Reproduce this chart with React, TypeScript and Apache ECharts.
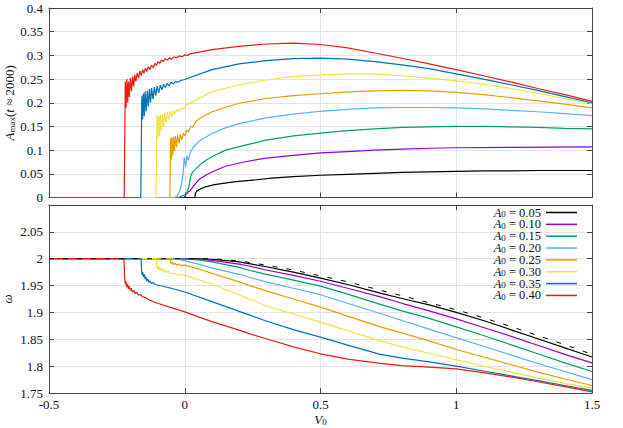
import React, { useEffect, useRef } from "react";
import * as echarts from "echarts";

// ---------- legend / colours ----------
const A0_LABELS = ["0.05", "0.10", "0.15", "0.20", "0.25", "0.30", "0.35", "0.40"];
const COLORS = ["#000000", "#9400d3", "#009e73", "#56b4e9", "#e69f00", "#f0e442", "#0072b2", "#e51e10"];

// ---------- top panel: A_max vs V0 ----------
const ampV_005 = [-0.5, 0.038, 0.039, 0.045, 0.06, 0.08, 0.11, 0.18, 0.24, 0.32, 0.4, 0.5, 0.6, 0.7, 0.8, 0.9, 1.0, 1.1, 1.2, 1.3, 1.4, 1.5];
const amp_005 = [0, 0, 0.009, 0.014, 0.019, 0.023, 0.027, 0.033, 0.036, 0.041, 0.044, 0.047, 0.049, 0.051, 0.053, 0.054, 0.055, 0.056, 0.056, 0.057, 0.057, 0.057];

const ampV_010 = [-0.5, -0.002, 0.002, 0.006, 0.02, 0.031, 0.045, 0.055, 0.08, 0.104, 0.15, 0.227, 0.3, 0.4, 0.5, 0.6, 0.7, 0.8, 0.9, 1.0, 1.2, 1.5];
const amp_010 = [0, 0, 0.004, 0.008, 0.015, 0.023, 0.033, 0.039, 0.048, 0.055, 0.066, 0.076, 0.083, 0.089, 0.094, 0.097, 0.1, 0.102, 0.104, 0.105, 0.106, 0.107];

const ampV_015 = [-0.5, -0.035, -0.02, -0.005, 0.006, 0.015, 0.022, 0.028, 0.04, 0.06, 0.08, 0.104, 0.15, 0.227, 0.3, 0.4, 0.5, 0.6, 0.7, 0.8, 0.9, 1.0, 1.1, 1.2, 1.3, 1.4, 1.5];
const amp_015 = [0, 0, 0.001, 0.004, 0.008, 0.022, 0.045, 0.053, 0.06, 0.071, 0.079, 0.087, 0.1, 0.111, 0.121, 0.13, 0.136, 0.141, 0.145, 0.148, 0.149, 0.15, 0.15, 0.149, 0.148, 0.146, 0.145];

const ampV_020 = [-0.5, -0.037, -0.028, -0.02, -0.012, -0.006, -0.002, 0.003, 0.008, 0.013, 0.02, 0.031, 0.055, 0.1, 0.15, 0.2, 0.3, 0.4, 0.5, 0.6, 0.7, 0.8, 0.9, 1.0, 1.1, 1.2, 1.3, 1.4, 1.5];
const amp_020 = [0, 0, 0.004, 0.012, 0.028, 0.05, 0.085, 0.065, 0.088, 0.078, 0.095, 0.106, 0.12, 0.135, 0.147, 0.156, 0.168, 0.176, 0.182, 0.186, 0.189, 0.19, 0.19, 0.189, 0.187, 0.184, 0.181, 0.177, 0.173];

const ampV_025 = [-0.5, -0.055, -0.052, -0.05, -0.047, -0.044, -0.041, -0.038, -0.034, -0.03, -0.026, -0.021, -0.016, -0.011, -0.005, 0.001, 0.007, 0.014, 0.022, 0.03, 0.04, 0.05, 0.1, 0.2, 0.3, 0.4, 0.5, 0.6, 0.7, 0.8, 0.9, 1.0, 1.1, 1.2, 1.3, 1.4, 1.5];
const amp_025 = [0, 0, 0.125, 0.08, 0.127, 0.088, 0.128, 0.098, 0.13, 0.106, 0.131, 0.114, 0.133, 0.122, 0.136, 0.13, 0.142, 0.139, 0.15, 0.149, 0.16, 0.165, 0.181, 0.199, 0.209, 0.215, 0.219, 0.223, 0.225, 0.226, 0.225, 0.222, 0.217, 0.211, 0.204, 0.197, 0.189];

const ampV_030 = [-0.5, -0.106, -0.102, -0.099, -0.096, -0.093, -0.09, -0.086, -0.082, -0.078, -0.074, -0.069, -0.064, -0.059, -0.054, -0.048, -0.042, -0.036, -0.03, -0.022, -0.014, -0.006, 0.005, 0.1, 0.2, 0.3, 0.4, 0.5, 0.6, 0.7, 0.8, 0.9, 1.0, 1.1, 1.2, 1.3, 1.4, 1.5];
const amp_030 = [0, 0, 0.175, 0.125, 0.172, 0.13, 0.174, 0.14, 0.176, 0.15, 0.178, 0.158, 0.18, 0.165, 0.182, 0.171, 0.184, 0.176, 0.186, 0.181, 0.189, 0.186, 0.195, 0.223, 0.238, 0.248, 0.255, 0.259, 0.261, 0.261, 0.257, 0.252, 0.246, 0.239, 0.23, 0.22, 0.209, 0.198];

const ampV_035 = [-0.5, -0.162, -0.158, -0.155, -0.152, -0.149, -0.146, -0.142, -0.138, -0.134, -0.13, -0.126, -0.122, -0.117, -0.112, -0.107, -0.102, -0.096, -0.09, -0.084, -0.078, -0.072, -0.065, -0.058, -0.05, -0.042, -0.034, -0.025, -0.015, 0.0, 0.1, 0.2, 0.3, 0.4, 0.5, 0.6, 0.7, 0.8, 0.9, 1.0, 1.1, 1.2, 1.3, 1.4, 1.5];
const amp_035 = [0, 0, 0.215, 0.165, 0.22, 0.172, 0.224, 0.182, 0.226, 0.192, 0.229, 0.2, 0.231, 0.208, 0.233, 0.215, 0.235, 0.221, 0.237, 0.227, 0.239, 0.232, 0.241, 0.236, 0.243, 0.24, 0.245, 0.243, 0.247, 0.249, 0.27, 0.282, 0.289, 0.293, 0.294, 0.292, 0.287, 0.28, 0.272, 0.261, 0.25, 0.238, 0.226, 0.213, 0.2];

const ampV_040 = [-0.5, -0.223, -0.219, -0.216, -0.213, -0.21, -0.207, -0.204, -0.2, -0.196, -0.192, -0.188, -0.184, -0.18, -0.175, -0.17, -0.165, -0.16, -0.155, -0.15, -0.145, -0.14, -0.134, -0.128, -0.122, -0.116, -0.11, -0.104, -0.098, -0.092, -0.086, -0.08, -0.072, -0.064, -0.056, -0.048, -0.04, -0.03, -0.02, -0.01, 0.0, 0.01, 0.02, 0.1, 0.2, 0.3, 0.4, 0.5, 0.6, 0.7, 0.8, 0.9, 1.0, 1.1, 1.2, 1.3, 1.4, 1.5];
const amp_040 = [0, 0, 0.245, 0.19, 0.25, 0.2, 0.245, 0.212, 0.252, 0.225, 0.256, 0.235, 0.259, 0.245, 0.263, 0.252, 0.267, 0.258, 0.27, 0.262, 0.273, 0.266, 0.276, 0.27, 0.279, 0.274, 0.283, 0.279, 0.287, 0.283, 0.29, 0.287, 0.293, 0.29, 0.295, 0.292, 0.297, 0.295, 0.299, 0.297, 0.301, 0.3, 0.303, 0.312, 0.319, 0.324, 0.326, 0.323, 0.316, 0.305, 0.294, 0.282, 0.27, 0.257, 0.244, 0.23, 0.217, 0.203];

// ---------- bottom panel: omega vs V0 ----------
const omgV_005 = [-0.5, 0.038, 0.1, 0.2, 0.3, 0.4, 0.5, 0.6, 0.72, 0.8, 0.9, 1.0, 1.1, 1.2, 1.3, 1.4, 1.5];
const omg_005 = [2.0, 2.0, 1.999, 1.994, 1.985, 1.975, 1.964, 1.952, 1.936, 1.926, 1.914, 1.9, 1.885, 1.868, 1.851, 1.834, 1.817];

const omgV_010 = [-0.5, 0.0, 0.1, 0.2, 0.24, 0.3, 0.4, 0.5, 0.6, 0.72, 0.8, 0.9, 1.0, 1.1, 1.2, 1.3, 1.4, 1.5];
const omg_010 = [2.0, 2.0, 1.997, 1.99, 1.986, 1.979, 1.969, 1.958, 1.945, 1.929, 1.917, 1.903, 1.888, 1.872, 1.856, 1.839, 1.822, 1.806];

const omgV_015 = [-0.5, -0.03, 0.05, 0.1, 0.2, 0.24, 0.3, 0.4, 0.5, 0.6, 0.72, 0.8, 0.9, 1.0, 1.1, 1.2, 1.3, 1.4, 1.5];
const omg_015 = [2.0, 2.0, 1.998, 1.994, 1.984, 1.978, 1.971, 1.96, 1.949, 1.934, 1.915, 1.903, 1.889, 1.873, 1.857, 1.84, 1.823, 1.806, 1.79];

const omgV_020 = [-0.5, -0.035, 0.0, 0.05, 0.1, 0.2, 0.24, 0.3, 0.4, 0.5, 0.6, 0.72, 0.8, 0.9, 1.0, 1.1, 1.2, 1.3, 1.4, 1.5];
const omg_020 = [2.0, 2.0, 1.996, 1.99, 1.983, 1.971, 1.965, 1.957, 1.945, 1.933, 1.917, 1.898, 1.885, 1.869, 1.853, 1.837, 1.821, 1.805, 1.79, 1.775];

const omgV_025 = [-0.5, -0.054, -0.052, -0.049, -0.045, -0.04, -0.035, -0.03, -0.02, -0.01, 0.0, 0.05, 0.1, 0.2, 0.24, 0.3, 0.4, 0.5, 0.6, 0.72, 0.8, 0.9, 1.0, 1.1, 1.2, 1.3, 1.4, 1.5];
const omg_025 = [2.0, 2.0, 1.994, 1.99, 1.993, 1.989, 1.992, 1.988, 1.99, 1.987, 1.988, 1.981, 1.973, 1.957, 1.95, 1.94, 1.925, 1.91, 1.893, 1.873, 1.862, 1.847, 1.831, 1.817, 1.803, 1.789, 1.776, 1.764];

const omgV_030 = [-0.5, -0.105, -0.103, -0.1, -0.097, -0.094, -0.09, -0.086, -0.082, -0.078, -0.073, -0.068, -0.062, -0.055, -0.045, -0.03, 0.0, 0.1, 0.2, 0.24, 0.3, 0.4, 0.5, 0.6, 0.72, 0.8, 0.9, 1.0, 1.1, 1.2, 1.3, 1.4, 1.5];
const omg_030 = [2.0, 2.0, 1.985, 1.98, 1.986, 1.979, 1.984, 1.977, 1.981, 1.976, 1.979, 1.974, 1.977, 1.972, 1.973, 1.971, 1.969, 1.953, 1.933, 1.924, 1.912, 1.897, 1.882, 1.866, 1.847, 1.836, 1.824, 1.812, 1.8, 1.789, 1.778, 1.768, 1.759];

const omgV_035 = [-0.5, -0.161, -0.159, -0.157, -0.155, -0.152, -0.149, -0.146, -0.143, -0.14, -0.136, -0.132, -0.128, -0.123, -0.118, -0.11, -0.1, -0.05, 0.0, 0.1, 0.2, 0.24, 0.3, 0.4, 0.5, 0.6, 0.72, 0.8, 0.9, 1.0, 1.1, 1.2, 1.3, 1.4, 1.5];
const omg_035 = [2.0, 2.0, 1.978, 1.97, 1.975, 1.966, 1.971, 1.962, 1.966, 1.958, 1.962, 1.956, 1.959, 1.954, 1.956, 1.952, 1.951, 1.945, 1.938, 1.92, 1.902, 1.895, 1.884, 1.868, 1.854, 1.839, 1.822, 1.815, 1.808, 1.8, 1.791, 1.782, 1.773, 1.764, 1.755];

const omgV_040 = [-0.5, -0.224, -0.221, -0.219, -0.217, -0.214, -0.211, -0.208, -0.205, -0.201, -0.197, -0.193, -0.188, -0.183, -0.177, -0.17, -0.162, -0.155, -0.145, -0.13, -0.1, -0.05, 0.0, 0.1, 0.2, 0.24, 0.3, 0.4, 0.5, 0.6, 0.72, 0.8, 0.9, 1.0, 1.1, 1.2, 1.3, 1.4, 1.5];
const omg_040 = [2.0, 2.0, 1.962, 1.952, 1.958, 1.947, 1.953, 1.944, 1.949, 1.941, 1.945, 1.938, 1.941, 1.935, 1.937, 1.932, 1.933, 1.929, 1.928, 1.923, 1.917, 1.909, 1.901, 1.883, 1.867, 1.86, 1.851, 1.836, 1.823, 1.813, 1.805, 1.801, 1.798, 1.795, 1.788, 1.78, 1.771, 1.762, 1.752];

// dashed black reference curve
const refV = [-0.5, 0.0, 0.1, 0.2, 0.3, 0.4, 0.5, 0.6, 0.7, 0.8, 0.9, 1.0, 1.1, 1.2, 1.3, 1.4, 1.5];
const refOmg = [2.0, 2.0, 2.0, 1.996, 1.988, 1.979, 1.968, 1.957, 1.944, 1.931, 1.918, 1.905, 1.89, 1.874, 1.857, 1.84, 1.822];

const AMP_X = [ampV_005, ampV_010, ampV_015, ampV_020, ampV_025, ampV_030, ampV_035, ampV_040];
const AMP_Y = [amp_005, amp_010, amp_015, amp_020, amp_025, amp_030, amp_035, amp_040];
const OMG_X = [omgV_005, omgV_010, omgV_015, omgV_020, omgV_025, omgV_030, omgV_035, omgV_040];
const OMG_Y = [omg_005, omg_010, omg_015, omg_020, omg_025, omg_030, omg_035, omg_040];

const zip = (xs: number[], ys: number[]) => xs.map((x, i) => [x, ys[i]]);

const FONT = "'Liberation Serif', 'Times New Roman', serif";
const FRAME = "#444444";
const GRIDC = "#e4e4e4";

const mathRich = {
  i: { fontFamily: FONT, fontStyle: "italic", fontSize: 13, color: "#111", lineHeight: 14 },
  n: { fontFamily: FONT, fontSize: 13, color: "#111", lineHeight: 14 },
  s: { fontFamily: FONT, fontSize: 9, color: "#111", lineHeight: 6, verticalAlign: "bottom" },
};

function xAxisCfg(grid: number, main: boolean, withLabels: boolean) {
  return {
    gridIndex: grid,
    type: "value",
    position: main ? "bottom" : "top",
    min: -0.5,
    max: 1.5,
    interval: 0.5,
    axisLine: { show: true, onZero: false, lineStyle: { color: FRAME, width: 1 } },
    axisTick: { show: true, inside: true, length: 5, lineStyle: { color: FRAME } },
    axisLabel: {
      show: withLabels,
      color: "#111",
      fontFamily: FONT,
      fontSize: 13,
      margin: 5,
    },
    splitLine: { show: main, lineStyle: { color: GRIDC, width: 1 } },
  };
}

function yAxisCfg(grid: number, main: boolean, min: number, max: number, showMax: boolean) {
  return {
    gridIndex: grid,
    type: "value",
    position: main ? "left" : "right",
    min,
    max,
    interval: 0.05,
    axisLine: { show: true, onZero: false, lineStyle: { color: FRAME, width: 1 } },
    axisTick: { show: true, inside: true, length: 5, lineStyle: { color: FRAME } },
    axisLabel: {
      show: main,
      color: "#111",
      fontFamily: FONT,
      fontSize: 13,
      margin: 6,
      showMaxLabel: showMax,
    },
    splitLine: { show: main, lineStyle: { color: GRIDC, width: 1 } },
  };
}

export default function App() {
  const ref = useRef<HTMLDivElement>(null);
  useEffect(() => {
    document.body.style.margin = "0";
    const chart = echarts.init(ref.current!, null, { renderer: "svg" });

    const series: any[] = [];
    A0_LABELS.forEach((lab, k) => {
      series.push({
        name: lab,
        type: "line",
        xAxisIndex: 0,
        yAxisIndex: 0,
        data: zip(AMP_X[k], AMP_Y[k]),
        showSymbol: false,
        lineStyle: { color: COLORS[k], width: 1.2 },
        itemStyle: { color: COLORS[k] },
        z: 2 + k,
      });
    });
    A0_LABELS.forEach((lab, k) => {
      series.push({
        name: lab,
        type: "line",
        xAxisIndex: 2,
        yAxisIndex: 2,
        data: zip(OMG_X[k], OMG_Y[k]),
        showSymbol: false,
        lineStyle: { color: COLORS[k], width: 1.2 },
        itemStyle: { color: COLORS[k] },
        z: 2 + k,
      });
    });
    series.push({
      name: "reference",
      type: "line",
      xAxisIndex: 2,
      yAxisIndex: 2,
      data: zip(refV, refOmg),
      showSymbol: false,
      lineStyle: { color: "#000", width: 1, type: [5, 9] },
      itemStyle: { color: "#000" },
      z: 20,
    });

    const option: any = {
      animation: false,
      backgroundColor: "#ffffff",
      textStyle: { fontFamily: FONT },
      grid: [
        { left: 49, top: 8, width: 543, height: 189.5, outerBoundsMode: "none", containLabel: false },
        { left: 49, top: 205, width: 543, height: 188, outerBoundsMode: "none", containLabel: false },
      ],
      xAxis: [
        xAxisCfg(0, true, false),
        xAxisCfg(0, false, false),
        {
          ...xAxisCfg(1, true, true),
          name: "{i|V}{s|0}",
          nameLocation: "middle",
          nameGap: 19,
          nameMoveOverlap: false,
          nameTextStyle: { rich: mathRich },
        },
        xAxisCfg(1, false, false),
      ],
      yAxis: [
        {
          ...yAxisCfg(0, true, 0, 0.4, true),
          name: "{i|A}{s|max}{n|(}{i|t}{n| ≈ 2000)}",
          nameLocation: "middle",
          nameGap: 33,
          nameMoveOverlap: false,
          nameTextStyle: { rich: mathRich },
        },
        yAxisCfg(0, false, 0, 0.4, false),
        {
          ...yAxisCfg(1, true, 1.75, 2.1, false),
          name: "{i|ω}",
          nameLocation: "middle",
          nameGap: 35,
          nameMoveOverlap: false,
          nameTextStyle: { rich: mathRich },
        },
        yAxisCfg(1, false, 1.75, 2.1, false),
      ],
      legend: {
        data: A0_LABELS,
        orient: "vertical",
        right: 46,
        top: 206,
        padding: 0,
        align: "right",
        icon: "rect",
        itemWidth: 31,
        itemHeight: 1.5,
        itemGap: -1.15,
        selectedMode: false,
        formatter: (n: string) => `{i|A}{s|0}{n| = ${n}}`,
        textStyle: {
          fontFamily: FONT,
          fontSize: 12,
          lineHeight: 12,
          color: "#111",
          rich: {
            i: { fontFamily: FONT, fontStyle: "italic", fontSize: 12.5, color: "#111", lineHeight: 12 },
            n: { fontFamily: FONT, fontSize: 12.5, color: "#111", lineHeight: 12 },
            s: { fontFamily: FONT, fontSize: 9, color: "#111", lineHeight: 5, verticalAlign: "bottom" },
          },
        },
      },
      series,
    };
    chart.setOption(option);
    return () => chart.dispose();
  }, []);
  return <div ref={ref} style={{ width: 623, height: 428 }} />;
}
